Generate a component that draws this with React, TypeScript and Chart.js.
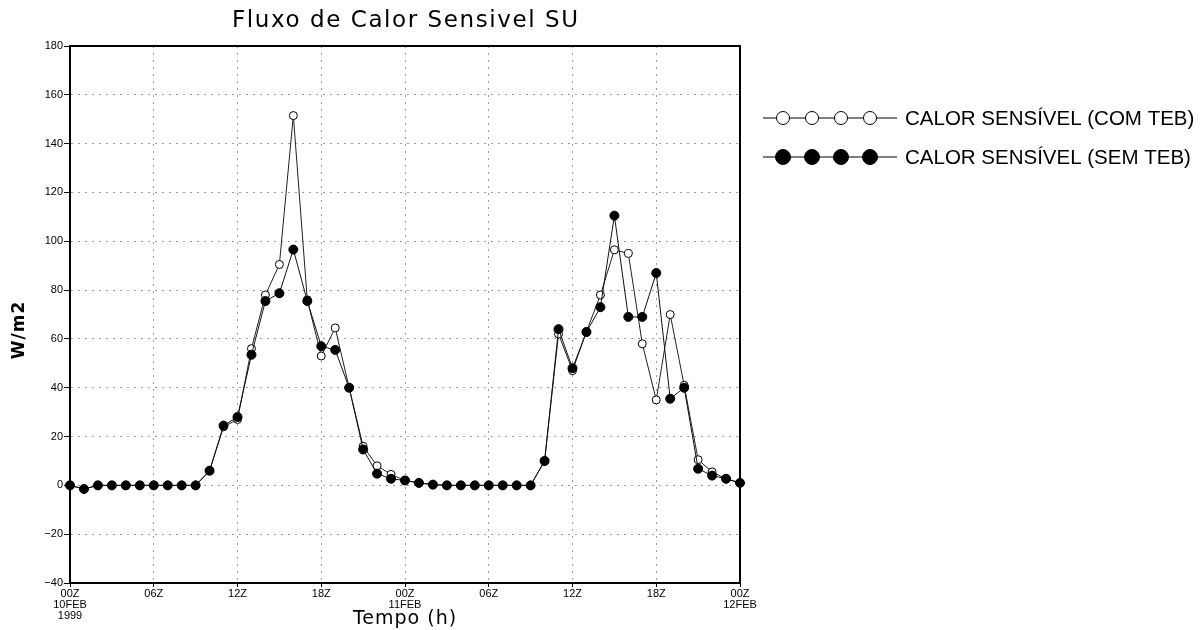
import React, { useEffect, useRef } from "react";
import { Chart, registerables } from "chart.js";

Chart.register(...registerables);

const hours: number[] = Array.from({ length: 49 }, (_, i) => i);

const comTeb: number[] = [
  0, -1.5, 0, 0, 0, 0, 0, 0, 0, 0,
  6, 24, 27, 56, 78, 90.5, 151.5, 76, 53, 64.5,
  40, 16, 8, 4.5, 2, 1, 0.3, 0, 0, 0,
  0, 0, 0, 0, 10, 62, 47, 63, 78, 96.5,
  95, 58, 35, 70, 41, 10.5, 5.5, 2.7, 1,
];

const semTeb: number[] = [
  0, -1.5, 0, 0, 0, 0, 0, 0, 0, 0,
  6, 24.5, 28, 53.5, 75.5, 78.7, 96.6, 75.5, 57, 55.5,
  40, 14.7, 4.8, 2.7, 2, 1, 0.3, 0, 0, 0,
  0, 0, 0, 0, 10, 64, 48, 62.8, 73, 110.5,
  69, 69, 87, 35.5, 40, 6.8, 4, 2.7, 1,
];

const xTickLabels: (string | string[])[] = [
  ["00Z", "10FEB", "1999"], "06Z", "12Z", "18Z", ["00Z", "11FEB"], "06Z", "12Z", "18Z", ["00Z", "12FEB"],
];

const titleText = "Fluxo de Calor Sensivel SU";
const xTitle = "Tempo (h)";
const yTitle = "W/m2";
const seriesNames = ["CALOR SENSÍVEL (COM TEB)", "CALOR SENSÍVEL (SEM TEB)"];

const decorPlugin = {
  id: "decor",
  afterDraw(chart: any) {
    const ctx = chart.ctx as CanvasRenderingContext2D;
    const a = chart.chartArea;
    ctx.save();
    // frame
    ctx.setLineDash([]);
    ctx.strokeStyle = "#000";
    ctx.lineWidth = 2;
    ctx.strokeRect(a.left, a.top, a.right - a.left, a.bottom - a.top);

    // title
    ctx.fillStyle = "#000";
    ctx.textBaseline = "middle";
    ctx.textAlign = "left";
    ctx.font = "23px 'DejaVu Sans'";
    const tw = ctx.measureText(titleText).width;
    const target = 346;
    const ls = (target - tw) / (titleText.length - 1);
    (ctx as any).letterSpacing = ls + "px";
    ctx.fillText(titleText, 232, 21);
    (ctx as any).letterSpacing = "0px";

    // x title
    ctx.font = "19px 'DejaVu Sans'";
    ctx.textAlign = "center";
    (ctx as any).letterSpacing = "1px";
    ctx.fillText(xTitle, (a.left + a.right) / 2, 619);
    (ctx as any).letterSpacing = "0px";

    // y title
    ctx.save();
    ctx.translate(20, 330);
    ctx.rotate(-Math.PI / 2);
    ctx.font = "bold 17px 'DejaVu Sans'";
    ctx.textAlign = "center";
    (ctx as any).letterSpacing = "1px";
    ctx.fillText(yTitle, 0, 0);
    ctx.restore();

    // legend
    const rows = [
      { y: 118, fill: "#fff", r: 6.5 },
      { y: 157, fill: "#000", r: 7.5 },
    ];
    rows.forEach((row, i) => {
      ctx.strokeStyle = "#000";
      ctx.lineWidth = 1;
      ctx.beginPath();
      ctx.moveTo(763, row.y);
      ctx.lineTo(897, row.y);
      ctx.stroke();
      [783, 812, 841, 870].forEach((cx) => {
        ctx.beginPath();
        ctx.arc(cx, row.y, row.r, 0, Math.PI * 2);
        ctx.fillStyle = row.fill;
        ctx.fill();
        ctx.stroke();
      });
      ctx.fillStyle = "#000";
      ctx.font = "20.5px 'Liberation Sans'";
      ctx.textAlign = "left";
      ctx.textBaseline = "middle";
      ctx.fillText(seriesNames[i], 905, row.y + 1);
    });
    ctx.restore();
  },
};

export default function App() {
  const ref = useRef<HTMLCanvasElement>(null);
  useEffect(() => {
    document.body.style.margin = "0";
    const gridCommon: any = {
      color: "#9a9a9a",
      lineWidth: 1,
      tickBorderDash: [],
      tickColor: "#000",
    };
    const chart = new Chart(ref.current!, {
      type: "line",
      data: {
        datasets: [
          {
            label: seriesNames[1],
            data: hours.map((h, i) => ({ x: h, y: semTeb[i] })),
            borderColor: "#111",
            borderWidth: 1,
            backgroundColor: "#000",
            pointBackgroundColor: "#000",
            pointBorderColor: "#000",
            pointRadius: 4.5,
            pointBorderWidth: 1,
            order: 0,
            clip: false as any,
          },
          {
            label: seriesNames[0],
            data: hours.map((h, i) => ({ x: h, y: comTeb[i] })),
            borderColor: "#222",
            borderWidth: 1,
            backgroundColor: "#fff",
            pointBackgroundColor: "#fff",
            pointBorderColor: "#000",
            pointRadius: 4,
            pointBorderWidth: 1,
            order: 1,
            clip: false as any,
          },
        ],
      },
      options: {
        animation: false,
        responsive: true,
        maintainAspectRatio: false,
        layout: { padding: { top: 46, right: 463, left: 0, bottom: 0 } },
        plugins: { legend: { display: false }, tooltip: { enabled: false }, title: { display: false } },
        scales: {
          x: {
            type: "linear",
            min: 0,
            max: 48,
            afterFit: (s: any) => { s.height = 47; },
            afterBuildTicks: (s: any) => {
              s.ticks = xTickLabels.map((_, i) => ({ value: i * 6 }));
            },
            ticks: {
              autoSkip: false,
              maxRotation: 0,
              padding: 1,
              color: "#000",
              font: { family: "'Liberation Sans'", size: 11, lineHeight: 1.0 },
              callback: (v: any, i: number) => xTickLabels[i],
            },
            grid: { ...gridCommon, tickLength: 4 },
            border: { display: true, color: "#000", width: 2, dash: [2, 5] },
          },
          y: {
            type: "linear",
            min: -40,
            max: 180,
            afterFit: (s: any) => { s.width = 70; },
            ticks: {
              stepSize: 20,
              padding: 1,
              color: "#000",
              font: { family: "'Liberation Sans'", size: 11 },
              callback: (v: any) => String(v).replace("-", "−"),
            },
            grid: { ...gridCommon, tickLength: 6 },
            border: { display: true, color: "#000", width: 2, dash: [2, 5] },
          },
        },
      },
      plugins: [decorPlugin],
    });
    return () => chart.destroy();
  }, []);
  return (
    <div style={{ position: "fixed", left: 0, top: 0, width: 1203, height: 630, background: "#fff" }}>
      <canvas ref={ref} />
    </div>
  );
}
